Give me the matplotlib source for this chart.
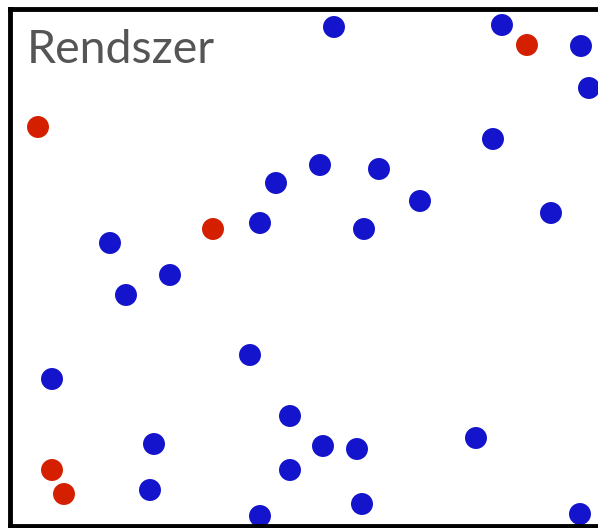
import matplotlib
matplotlib.use("Agg")
import matplotlib.pyplot as plt

# dot centres (pixel units, y down)
blue_x = [334, 502, 581, 589, 493, 320, 379, 276, 420, 551, 260, 364, 110, 170,
          126, 250, 52, 290, 476, 154, 323, 357, 290, 150, 362, 260, 580]
blue_y = [27, 25, 46, 88, 139, 165, 169, 183, 201, 213, 223, 229, 243, 275,
          295, 355, 379, 416, 438, 444, 446, 449, 470, 490, 504, 516, 514]
red_x = [527, 38, 213, 52, 64]
red_y = [45, 127, 229, 470, 494]

title = "Rendszer"

W, H = 598, 528
fig = plt.figure(figsize=(W / 100, H / 100), dpi=100)
left, top, bottom = 9.5, 9, 525.5
ax = fig.add_axes([left / W, 1 - bottom / H, 1 - left / W + 0.01, (bottom - top) / H])
ax.set_xlim(left, W + 6)
ax.set_ylim(bottom, top)

ax.scatter(blue_x, blue_y, s=250, color="#1414cc", edgecolors="none", clip_on=False, zorder=1)
ax.scatter(red_x, red_y, s=250, color="#d42000", edgecolors="none", clip_on=False, zorder=1)

for side in ["left", "top", "bottom"]:
    ax.spines[side].set_linewidth(3.5)
    ax.spines[side].set_color("black")
ax.spines["right"].set_visible(False)
ax.set_xticks([])
ax.set_yticks([])

ax.text(27, 50, title, fontsize=33.5, family="Lato", color="#555555", va="center", ha="left")

fig.savefig("out.png", dpi=100)
